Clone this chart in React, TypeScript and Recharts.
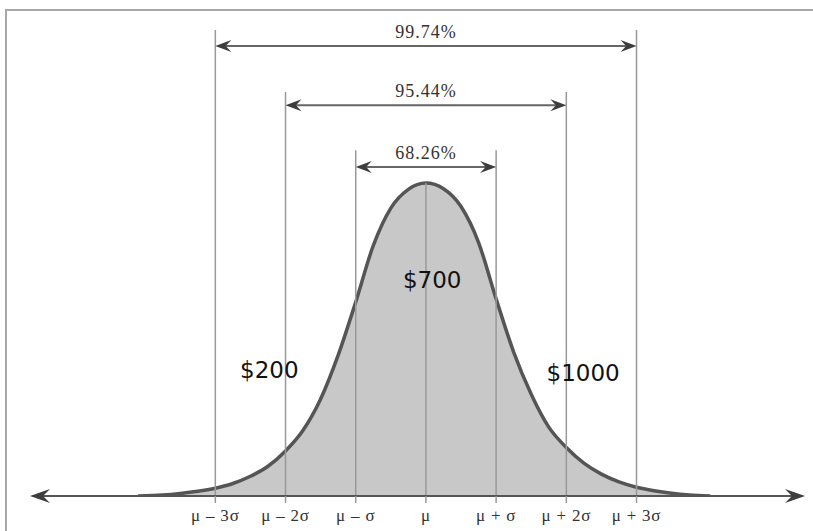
import React from 'react';
import { ComposedChart, Area, XAxis, YAxis, ReferenceLine, ReferenceDot } from 'recharts';

// curve, x in sigma units, height with the peak = 100
const sigmaPoints = [
    -4.1, -3.75, -3.5, -3.25, -3, -2.75, -2.5, -2.25, -2, -1.75, -1.5, -1.25, -1, -0.75, -0.5, -0.25, 0,
    0.25, 0.5, 0.75, 1, 1.25, 1.5, 1.75, 2, 2.25, 2.5, 2.75, 3, 3.25, 3.5, 3.75, 4.05,
];
const curveHeights = [
    0, 0.3, 0.8, 1.5, 2.5, 4, 6.3, 9.5, 14.4, 21, 31, 45, 62, 80, 92, 98, 100,
    98.2, 92.5, 81, 63, 46, 32.5, 22, 15.5, 10.5, 7, 4.5, 2.8, 1.7, 0.9, 0.35, 0,
];

const tickValues = [-3, -2, -1, 0, 1, 2, 3];
const tickLabels = ['μ – 3σ', 'μ – 2σ', 'μ – σ', 'μ', 'μ + σ', 'μ + 2σ', 'μ + 3σ'];

// spans of the percentage arrows
const spanWidths = [3, 2, 1];
const spanLabels = ['99.74%', '95.44%', '68.26%'];
const spanLineTops = [148.9, 129.1, 110.5];
const spanArrowHeights = [143.8, 124.9, 105.1];

const priceLabels = ['$200', '$700', '$1000'];
const priceX = [-2.23, 0.09, 2.24];
const priceY = [40.3, 69, 39.3];

const data = sigmaPoints.map((z, i) => ({ z, h: curveHeights[i] }));

const head = (x: number, y: number, dir: number, color: string, len: number, half: number) => (
    <path
        d={`M${x},${y} L${x + dir * len},${y - half} L${x + dir * len * 0.65},${y} L${x + dir * len},${y + half} Z`}
        fill={color}
    />
);

const arrowShape = (label?: string) => (props: any) => {
    const { x1, y1, x2, y2 } = props;
    const left = Math.min(x1, x2);
    const right = Math.max(x1, x2);
    const len = label ? 16 : 20;
    const half = label ? 6 : 7;
    return (
        <g>
            <line x1={left + 8} y1={y1} x2={right - 8} y2={y2} stroke={label ? '#666' : '#555'} strokeWidth={2} />
            {head(left, y1, 1, '#3d3d3d', len, half)}
            {head(right, y2, -1, '#3d3d3d', len, half)}
            {label && (
                <text
                    x={(left + right) / 2}
                    y={y1 - 8}
                    textAnchor="middle"
                    fontFamily="'Liberation Serif', serif"
                    fontSize={18}
                    letterSpacing={1}
                    fill="#333"
                >
                    {label}
                </text>
            )}
        </g>
    );
};

export default function App() {
    return (
        <div style={{ position: 'absolute', left: 0, top: 0, width: 813, height: 531, background: '#fff' }}>
            <div
                style={{
                    position: 'absolute',
                    left: 5,
                    top: 9,
                    width: 808,
                    height: 522,
                    borderTop: '2px solid #a8a8a8',
                    borderLeft: '2px solid #a8a8a8',
                    boxSizing: 'border-box',
                }}
            />
            <div style={{ position: 'absolute', left: 0, top: 0 }}>
                <ComposedChart width={813} height={531} data={data} margin={{ top: 10, right: 8, bottom: 5, left: 30 }}>
                    <XAxis
                        dataKey="z"
                        type="number"
                        domain={[-5.64, 5.4]}
                        ticks={tickValues}
                        tickFormatter={(v) => tickLabels[tickValues.indexOf(v)]}
                        axisLine={false}
                        tickLine={{ stroke: '#999', strokeWidth: 1.5 }}
                        tickSize={7}
                        tickMargin={6}
                        height={30}
                        tick={{ fill: '#333', fontSize: 17, fontFamily: "'Liberation Serif', serif", letterSpacing: 0.8 }}
                        allowDataOverflow
                    />
                    <YAxis hide domain={[0, 155.3]} allowDataOverflow />
                    <Area
                        type="monotone"
                        dataKey="h"
                        stroke="#555"
                        strokeWidth={3.5}
                        fill="#c8c8c8"
                        fillOpacity={1}
                        isAnimationActive={false}
                        dot={false}
                        activeDot={false}
                    />
                    <ReferenceLine
                        segment={[{ x: 0, y: 0 }, { x: 0, y: 100 }]}
                        stroke="#999"
                        strokeWidth={1.5}
                    />
                    {spanWidths.map((w, i) => (
                        <ReferenceLine
                            key={`l${i}`}
                            segment={[{ x: -w, y: 0 }, { x: -w, y: spanLineTops[i] }]}
                            stroke="#999"
                            strokeWidth={1.5}
                        />
                    ))}
                    {spanWidths.map((w, i) => (
                        <ReferenceLine
                            key={`r${i}`}
                            segment={[{ x: w, y: 0 }, { x: w, y: spanLineTops[i] }]}
                            stroke="#999"
                            strokeWidth={1.5}
                        />
                    ))}
                    {spanWidths.map((w, i) => (
                        <ReferenceLine
                            key={`a${i}`}
                            segment={[{ x: -w, y: spanArrowHeights[i] }, { x: w, y: spanArrowHeights[i] }]}
                            shape={arrowShape(spanLabels[i])}
                        />
                    ))}
                    <ReferenceLine y={0} shape={arrowShape()} />
                    {priceLabels.map((p, i) => (
                        <ReferenceDot
                            key={p}
                            x={priceX[i]}
                            y={priceY[i]}
                            r={0}
                            fill="none"
                            stroke="none"
                            label={{
                                value: p,
                                position: 'center',
                                fill: '#111',
                                fontSize: 23,
                                fontFamily: "'DejaVu Sans', sans-serif",
                            }}
                        />
                    ))}
                </ComposedChart>
            </div>
        </div>
    );
}
